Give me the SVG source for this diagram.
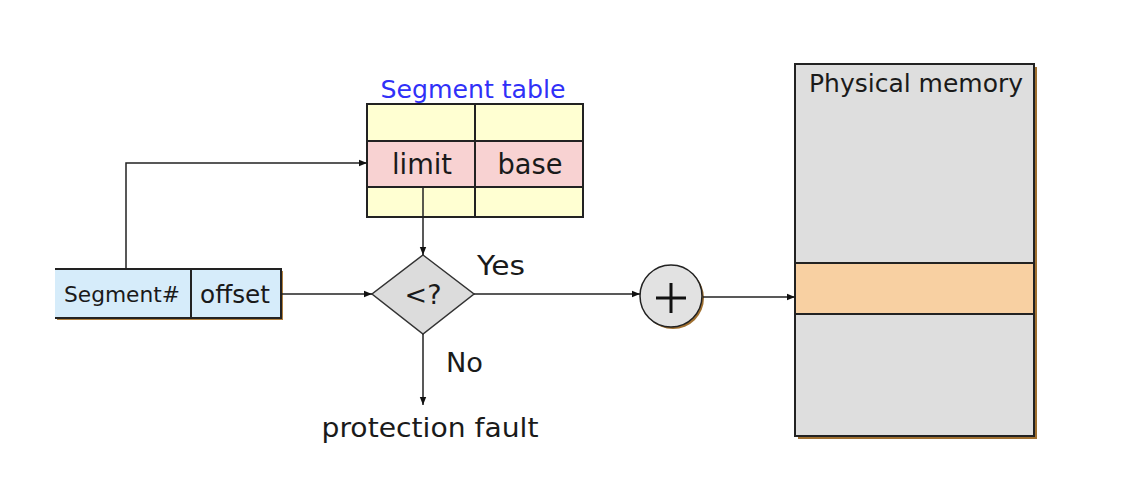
<svg xmlns="http://www.w3.org/2000/svg" width="1142" height="498" viewBox="0 0 1142 498">
<style>
text{font-family:"DejaVu Sans","Verdana",sans-serif;fill:#1a1a1a}
.b{stroke:#222;stroke-width:2}
.ln{stroke:#222;stroke-width:1.5;fill:none}
</style>
<defs>
<marker id="ar" viewBox="0 0 10 10" refX="10" refY="5" markerWidth="8" markerHeight="8" orient="auto" markerUnits="userSpaceOnUse"><path d="M0,1 L10,5 L0,9 z" fill="#111"/></marker>
</defs>
<rect width="1142" height="498" fill="#fff"/>
<g id="segment-table">
<text x="473" y="98" font-size="25" text-anchor="middle" style="fill:#3030f8" textLength="185" lengthAdjust="spacingAndGlyphs">Segment table</text>
<rect x="367" y="104" width="216" height="37" fill="#ffffd2" class="b"/>
<rect x="367" y="141" width="216" height="46" fill="#f8d2d2" class="b"/>
<rect x="367" y="187" width="216" height="30" fill="#ffffd2" class="b"/>
<line x1="475" y1="104" x2="475" y2="217" class="b"/>
<text x="422" y="174" font-size="28" text-anchor="middle" textLength="60" lengthAdjust="spacingAndGlyphs">limit</text>
<text x="530" y="174" font-size="28" text-anchor="middle" textLength="65" lengthAdjust="spacingAndGlyphs">base</text>
</g>
<g id="address">
<rect x="57" y="271" width="226" height="49" fill="#b08040"/>
<rect x="55" y="269" width="226" height="49" fill="#d6ecfa"/>
<path d="M55,269 H281 V318 H55" class="b" fill="none"/>
<line x1="191" y1="269" x2="191" y2="318" class="b"/>
<text x="122" y="302" font-size="21" text-anchor="middle" textLength="116" lengthAdjust="spacingAndGlyphs">Segment#</text>
<text x="235" y="303" font-size="25" text-anchor="middle" textLength="70" lengthAdjust="spacingAndGlyphs">offset</text>
</g>
<g id="compare">
<polygon points="423,255 474,294 423,334 372,294" fill="#dcdcdc" stroke="#333" stroke-width="1.5"/>
<text x="423" y="304" font-size="27" text-anchor="middle">&lt;?</text>
</g>
<g id="adder">
<circle cx="673" cy="298" r="31" fill="#a07030"/>
<circle cx="671" cy="296" r="31" fill="#e2e2e2" stroke="#222" stroke-width="1.5"/>
<path d="M656,298 H686 M671,283 V313" stroke="#111" stroke-width="3" fill="none"/>
</g>
<g id="physical-memory">
<rect x="798" y="67" width="239" height="372" fill="#a07030"/>
<rect x="795" y="64" width="239" height="372" fill="#dedede" class="b"/>
<rect x="795" y="263" width="239" height="51" fill="#f8d0a2" class="b"/>
<text x="916" y="92" font-size="24" text-anchor="middle" textLength="214" lengthAdjust="spacingAndGlyphs">Physical memory</text>
</g>
<g id="labels">
<text x="477" y="275" font-size="26" textLength="48" lengthAdjust="spacingAndGlyphs">Yes</text>
<text x="446" y="372" font-size="26" textLength="37" lengthAdjust="spacingAndGlyphs">No</text>
<text x="430" y="437" font-size="27" text-anchor="middle" textLength="217" lengthAdjust="spacingAndGlyphs">protection fault</text>
</g>
<g id="connectors">
<polyline points="126,269 126,163 367,163" class="ln" marker-end="url(#ar)"/>
<line x1="423" y1="187" x2="423" y2="255" class="ln" marker-end="url(#ar)"/>
<line x1="281" y1="294" x2="372" y2="294" class="ln" marker-end="url(#ar)"/>
<line x1="474" y1="294" x2="640" y2="294" class="ln" marker-end="url(#ar)"/>
<line x1="703" y1="297" x2="795" y2="297" class="ln" marker-end="url(#ar)"/>
<line x1="423" y1="334" x2="423" y2="405" class="ln" marker-end="url(#ar)"/>
</g>
</svg>
